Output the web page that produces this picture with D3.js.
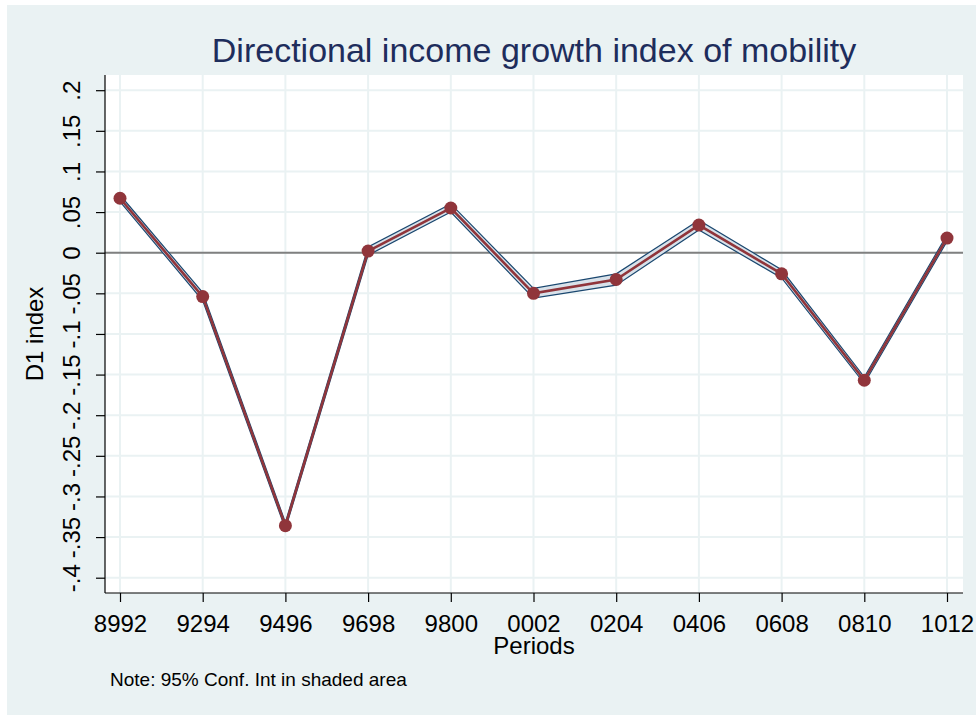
<!DOCTYPE html>
<html>
<head>
<meta charset="utf-8">
<script src="https://cdn.jsdelivr.net/npm/d3@7"></script>
<style>
  body { margin: 0; background: #fff; }
  svg { font-family: "Liberation Sans", Arial, sans-serif; }
</style>
</head>
<body>
<div id="chart"></div>
<script>
var periods = ["8992", "9294", "9496", "9698", "9800", "0002", "0204", "0406", "0608", "0810", "1012"];
var d1 = [0.067, -0.054, -0.336, 0.002, 0.055, -0.050, -0.033, 0.034, -0.026, -0.157, 0.018];
var ciLow = [0.063, -0.059, -0.340, -0.003, 0.050, -0.056, -0.040, 0.028, -0.031, -0.161, 0.014];
var ciHigh = [0.071, -0.049, -0.332, 0.007, 0.060, -0.044, -0.026, 0.040, -0.021, -0.153, 0.022];
var yTicks = [0.2, 0.15, 0.1, 0.05, 0, -0.05, -0.1, -0.15, -0.2, -0.25, -0.3, -0.35, -0.4];

var svgWidth = 976;
var svgHeight = 715;

var plot = { left: 105, right: 963, top: 75, bottom: 593 };

var svg = d3.select("#chart")
  .append("svg")
  .attr("width", svgWidth)
  .attr("height", svgHeight);

// outer graph region
svg.append("rect")
  .attr("x", 7).attr("y", 5)
  .attr("width", svgWidth - 7).attr("height", svgHeight - 5)
  .attr("fill", "#eaf2f3");

svg.append("rect")
  .attr("x", plot.left).attr("y", plot.top)
  .attr("width", plot.right - plot.left).attr("height", plot.bottom - plot.top)
  .attr("fill", "#ffffff");

var x = d3.scalePoint()
  .domain(periods)
  .range([120, 947]);

var y = d3.scaleLinear()
  .domain([-0.4, 0.2])
  .range([577.7, 90.2]);

// Stata style tick labels: .05, -.1, 0
function fmt(v) {
  var s = String(+v.toFixed(2));
  return s.replace(/^0\./, ".").replace(/^-0\./, "-.");
}

// grid
svg.append("g").selectAll("line").data(yTicks).enter().append("line")
  .attr("x1", plot.left).attr("x2", plot.right)
  .attr("y1", d => y(d)).attr("y2", d => y(d))
  .attr("stroke", "#eaf2f3").attr("stroke-width", 2);

svg.append("g").selectAll("line").data(periods).enter().append("line")
  .attr("x1", d => x(d)).attr("x2", d => x(d))
  .attr("y1", plot.top).attr("y2", plot.bottom)
  .attr("stroke", "#eaf2f3").attr("stroke-width", 2);

// zero line
svg.append("line")
  .attr("x1", plot.left).attr("x2", plot.right)
  .attr("y1", y(0)).attr("y2", y(0))
  .attr("stroke", "#808080").attr("stroke-width", 2);

var rows = periods.map((p, i) => ({ p: p, v: d1[i], lo: ciLow[i], hi: ciHigh[i] }));

// confidence band
var band = d3.area()
  .x(d => x(d.p))
  .y0(d => y(d.lo))
  .y1(d => y(d.hi));

svg.append("path")
  .datum(rows)
  .attr("d", band)
  .attr("fill", "#d9e2ea")
  .attr("stroke", "none");

svg.append("path")
  .datum(rows)
  .attr("d", d3.line().x(d => x(d.p)).y(d => y(d.lo)))
  .attr("fill", "none").attr("stroke", "#1a476f").attr("stroke-width", 1.2);

svg.append("path")
  .datum(rows)
  .attr("d", d3.line().x(d => x(d.p)).y(d => y(d.hi)))
  .attr("fill", "none").attr("stroke", "#1a476f").attr("stroke-width", 1.2);

// main line and markers
svg.append("path")
  .datum(rows)
  .attr("d", d3.line().x(d => x(d.p)).y(d => y(d.v)))
  .attr("fill", "none").attr("stroke", "#90353b").attr("stroke-width", 2.6);

svg.append("g").selectAll("circle").data(rows).enter().append("circle")
  .attr("cx", d => x(d.p))
  .attr("cy", d => y(d.v))
  .attr("r", 6.5)
  .attr("fill", "#90353b");

// axes
var leftAxis = d3.axisLeft(y).tickValues(yTicks).tickFormat(fmt).tickSize(9).tickPadding(4);
var yAxisG = svg.append("g")
  .attr("transform", `translate(${plot.left},0)`)
  .call(leftAxis);
yAxisG.attr("font-size", null).attr("font-family", null);
yAxisG.select(".domain").attr("d", `M0,${plot.top}V${plot.bottom}`).attr("stroke", "#000").attr("stroke-width", 1.2);
yAxisG.selectAll(".tick line").attr("stroke", "#000").attr("stroke-width", 1.2);
yAxisG.selectAll(".tick text")
  .style("font-size", "24px")
  .attr("fill", "#000")
  .attr("x", 0)
  .attr("dy", 0)
  .attr("text-anchor", "middle")
  .attr("transform", "translate(-25,0) rotate(-90)");

var bottomAxis = d3.axisBottom(x).tickSize(9).tickPadding(6);
var xAxisG = svg.append("g")
  .attr("transform", `translate(0,${plot.bottom})`)
  .call(bottomAxis);
xAxisG.attr("font-size", null).attr("font-family", null);
xAxisG.select(".domain").attr("d", `M${plot.left},0H${plot.right}`).attr("stroke", "#000").attr("stroke-width", 1.2);
xAxisG.selectAll(".tick line").attr("stroke", "#000").attr("stroke-width", 1.2);
xAxisG.selectAll(".tick text")
  .style("font-size", "24px")
  .attr("fill", "#000")
  .attr("y", 39)
  .attr("dy", 0);

// titles
svg.append("text")
  .attr("x", 534).attr("y", 62)
  .attr("text-anchor", "middle")
  .style("font-size", "34px")
  .attr("fill", "#1e2d5c")
  .text("Directional income growth index of mobility");

svg.append("text")
  .attr("transform", `translate(43,${(plot.top + plot.bottom) / 2}) rotate(-90)`)
  .attr("text-anchor", "middle")
  .style("font-size", "24px")
  .attr("fill", "#000")
  .text("D1 index");

svg.append("text")
  .attr("x", (plot.left + plot.right) / 2).attr("y", 654)
  .attr("text-anchor", "middle")
  .style("font-size", "24px")
  .attr("fill", "#000")
  .text("Periods");

svg.append("text")
  .attr("x", 110).attr("y", 686)
  .style("font-size", "19px")
  .attr("fill", "#000")
  .text("Note: 95% Conf. Int in shaded area");
</script>
</body>
</html>
